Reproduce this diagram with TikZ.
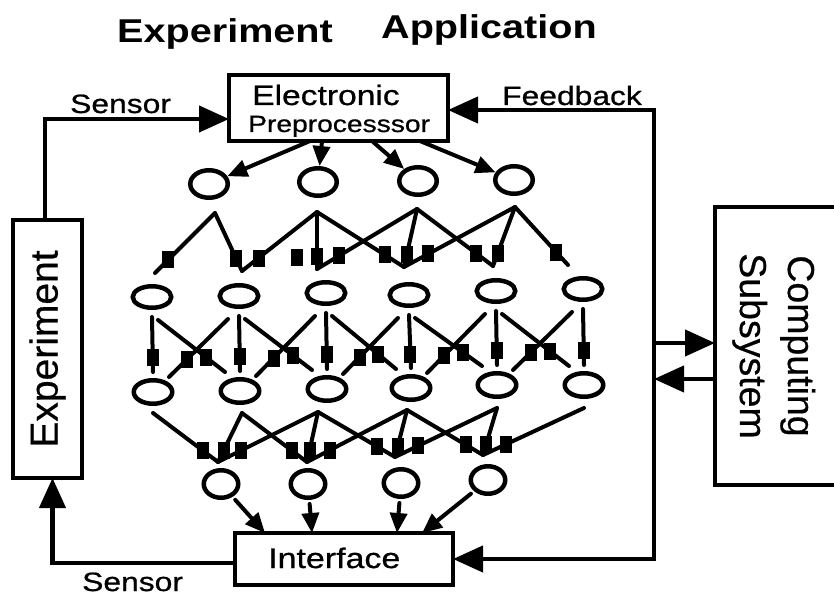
\documentclass[tikz,border=0pt]{standalone}
\usepackage{fontspec}
\setmainfont[FakeStretch=1.2]{Liberation Sans}
\newfontfamily\lblfont[FakeStretch=1.2, FakeBold=0.8]{Liberation Sans}
\newfontfamily\rotfont[FakeBold=0.5]{Liberation Sans}
\usetikzlibrary{arrows.meta,shapes.geometric,calc}
\tikzset{
  bigtip/.tip={Triangle[length=30pt,width=26pt]},
  smalltip/.tip={Triangle[length=20pt,width=17pt]},
  box/.style={draw, line width=3.2pt, inner sep=0pt, outer sep=0pt},
  boxline/.style={line width=3.2pt},
  conn/.style={line width=4.2pt},
  net/.style={line width=4pt, line cap=round},
  neuron/.style={ellipse, draw, line width=4.5pt, inner sep=0pt},
  rowa/.style={minimum width=37.5pt, minimum height=27.5pt},
  rowb/.style={minimum width=38.5pt, minimum height=21.5pt},
  rowc/.style={minimum width=38.5pt, minimum height=23.5pt},
  rowd/.style={minimum width=34.5pt, minimum height=27.5pt},
  syn/.style={fill, inner sep=0pt, minimum width=12pt, minimum height=17pt},
  txt/.style={inner sep=0pt, anchor=base west},
}
\begin{document}
\begin{tikzpicture}[x=1pt,y=-1pt]
\useasboundingbox (0,0) rectangle (834,596);
\clip (0,0) rectangle (834,596);

% title
\node[txt] (texp) at (117,43) {\fontsize{33}{36}\selectfont\bfseries Experiment};
\node[txt] (tapp) at (381,39) {\fontsize{33}{36}\selectfont\bfseries Application};

% boxes
\node[box, minimum width=219pt, minimum height=66pt] (pre) at (338.5,108) {};
\node[txt] (pre1) at (252,105) {\lblfont\fontsize{28}{30}\selectfont Electronic};
\node[txt] (pre2) at (248,132) {\lblfont\fontsize{23.5}{26}\selectfont Preprocesssor};

\node[box, minimum width=218pt, minimum height=52pt] (ifc) at (344,559) {};
\node[txt] (ifc1) at (268,568) {\lblfont\fontsize{28.3}{30}\selectfont Interface};

\node[box, minimum width=69pt, minimum height=258pt] (exp) at (47.5,349)
  {\rotatebox{90}{\rotfont\fontsize{39}{40}\selectfont Experiment}};

% computing subsystem: box runs off the right edge
\node[inner sep=0pt, outer sep=0pt, minimum width=119pt, minimum height=278pt, anchor=north west] (comp) at (715,207) {};
\draw[boxline] (comp.north east) -- (comp.north west) -- (comp.south west) -- (comp.south east);
\node[inner sep=0pt] (comptext) at (773.6,346)
  {\rotatebox{-90}{\rotfont\fontsize{37.5}{48}\selectfont\begin{tabular}{@{}c@{}}Computing\\Subsystem\end{tabular}}};

% neurons
\foreach \n/\x/\y in {a1/209/184, a2/318/182, a3/418/181, a4/514/180}
  \node[neuron, rowa] (\n) at (\x,\y) {};
\foreach \n/\x/\y in {b1/152/297, b2/239/296, b3/326/293, b4/409/295, b5/496/291, b6/583/289}
  \node[neuron, rowb] (\n) at (\x,\y) {};
\foreach \n/\x/\y in {c1/153/392, c2/240/391, c3/327/389, c4/411/388, c5/497/385, c6/584/385}
  \node[neuron, rowc] (\n) at (\x,\y) {};
\foreach \n/\x/\y in {d1/221/484, d2/308/484, d3/401/483, d4/488/480}
  \node[neuron, rowd] (\n) at (\x,\y) {};

% junction points
\foreach \n/\x/\y in {t1/215/213, t2/317/212, t3/417/209, t4/515/207,
  e1/155/273, e2/242/271, e3/317/269, e4/404/267, e5/493/266, e6/568/265,
  s1/153/413, s2/242/413, s3/318/412, s4/407/410, s5/497/408, s6/584/408,
  p1/218/462, p2/307/462, p3/395/457, p4/483/455}
  \coordinate (\n) at (\x,\y);

% top layer
\foreach \i/\j in {1/1,1/2,2/2,2/3,2/4,3/3,3/4,3/5,4/4,4/5,4/6}
  \draw[net] (t\i) -- (e\j) node[syn, pos=0.78] (qt\i\j) {};
\node[syn] (qt13) at (297,257) {};

% middle layer
\foreach \i in {1,...,6}
  \draw[net] ($(b\i)+(0,20)$) -- ($(c\i)+(0,-20)$) node[syn, pos=0.74] (qv\i) {};
\foreach \i/\j in {1/2,2/3,3/4,4/5,5/6}{
  \draw[net] ($(b\i)+(6,23)$) -- ($(c\j)+(-15,-19)$) node[syn, pos=0.72] (qr\i) {};
  \draw[net] ($(b\j)+(-11,23)$) -- ($(c\i)+(16,-15)$) node[syn, pos=0.70] (ql\i) {};
}

% bottom layer
\foreach \k/\j in {1/1,1/2,1/3,2/2,2/3,2/4,3/3,3/4,3/5,4/4,4/5,4/6}
  \draw[net] (s\j) -- (p\k) node[syn, pos=0.77] (qb\j\k) {};

% preprocessor to first row
\draw[net, -smalltip] ([xshift=-28.5pt]pre.south) -- (a1);
\draw[net, -smalltip] ([xshift=-16.5pt]pre.south) -- (a2);
\draw[net, -smalltip] ([xshift=33.5pt]pre.south) -- (a3);
\draw[net, -smalltip] ([xshift=81.5pt]pre.south) -- (a4);

% last row to interface
\draw[net, -smalltip, shorten <=4pt] (d1) -- ([xshift=-79pt]ifc.north);
\draw[net, -smalltip, shorten <=4pt] (d2) -- ([xshift=-32pt]ifc.north);
\draw[net, -smalltip, shorten <=4pt] (d3) -- ([xshift=53pt]ifc.north);
\draw[net, -smalltip, shorten <=4pt] (d4) -- ([xshift=78pt]ifc.north);

% feedback rail
\coordinate (rail) at (654,330);
\draw[conn, bigtip-bigtip] ([yshift=-2pt]pre.east) -| (rail) |- (ifc.east);
\coordinate (r1) at (654,343);
\coordinate (r2) at (654,379);
\draw[conn, -bigtip] (r1) -- (r1 -| comp.west);
\draw[conn, -bigtip] (r2 -| comp.west) -- (r2);

% sensor loops
\draw[conn, -bigtip] ([xshift=-2.5pt]exp.north) |- ([yshift=-11pt]pre.west);
\draw[conn, -bigtip] ([yshift=-4pt]ifc.west) -| ([xshift=5pt]exp.south);

% labels
\node[txt] (lsens1) at (70,113) {\lblfont\fontsize{26.5}{30}\selectfont Sensor};
\node[txt] (lfb) at (502,105) {\lblfont\fontsize{26.5}{30}\selectfont Feedback};
\node[txt] (lsens2) at (82,591) {\lblfont\fontsize{26.5}{30}\selectfont Sensor};
\end{tikzpicture}
\end{document}
